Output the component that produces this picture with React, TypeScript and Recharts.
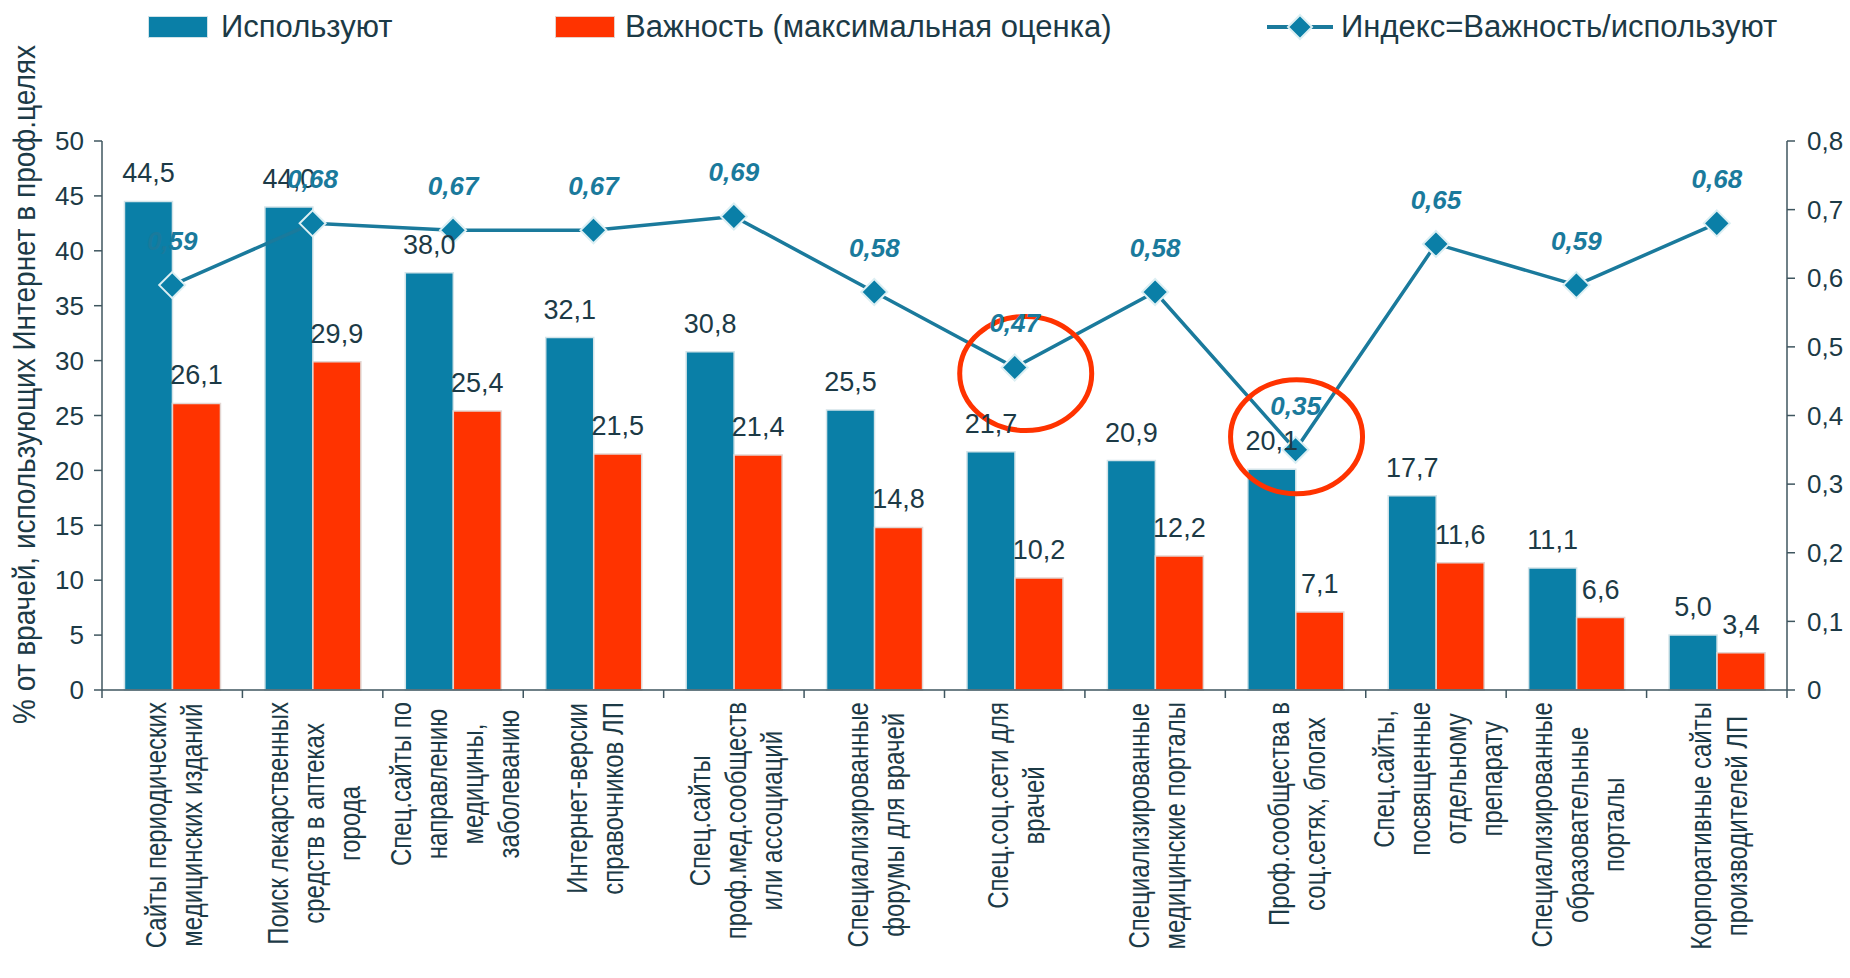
import React from "react";
import {
  ComposedChart,
  Bar,
  Line,
  XAxis,
  YAxis,
  Legend,
  LabelList,
  ReferenceDot,
} from "recharts";

const categories = [
  "Сайты периодических\nмедицинских изданий",
  "Поиск лекарственных\nсредств в аптеках\nгорода",
  "Спец.сайты по\nнаправлению\nмедицины,\nзаболеванию",
  "Интернет-версии\nсправочников ЛП",
  "Спец.сайты\nпроф.мед.сообществ\nили ассоциаций",
  "Специализированные\nфорумы для врачей",
  "Спец.соц.сети для\nврачей",
  "Специализированные\nмедицинские порталы",
  "Проф.сообщества в\nсоц.сетях, блогах",
  "Спец.сайты,\nпосвященные\nотдельному\nпрепарату",
  "Специализированные\nобразовательные\nпорталы",
  "Корпоративные сайты\nпроизводителей ЛП",
];

const usage = [44.5, 44.0, 38.0, 32.1, 30.8, 25.5, 21.7, 20.9, 20.1, 17.7, 11.1, 5.0];
const importance = [26.1, 29.9, 25.4, 21.5, 21.4, 14.8, 10.2, 12.2, 7.1, 11.6, 6.6, 3.4];
const indexValues = [0.59, 0.68, 0.67, 0.67, 0.69, 0.58, 0.47, 0.58, 0.35, 0.65, 0.59, 0.68];

const leftTicks = [0, 5, 10, 15, 20, 25, 30, 35, 40, 45, 50];
const rightTicks = [0, 0.1, 0.2, 0.3, 0.4, 0.5, 0.6, 0.7, 0.8];

// отмеченные красным точки (индексы категорий)
const circled = [6, 8];

const data = categories.map((name, i) => ({
  name,
  usage: usage[i],
  importance: importance[i],
  index: indexValues[i],
}));

const CHART_W = 1850;
const CHART_H = 978;
const LEFT_W = 102;
const RIGHT_W = 63;
const X_AXIS_H = 288;
const LEGEND_H = 60;
const BAND = (CHART_W - LEFT_W - RIGHT_W) / categories.length;

const FONT = '"Liberation Sans", Arial, sans-serif';
const TEXT = "#1c3a46";
const AXIS = "#3f565f";
const BLUE = "#0a7fa7";
const RED = "#ff3300";
const LINE = "#1a7a9c";
const CAT_FONT = 24;
const CAT_LINE_H = 30;
const CAT_STRETCH = 1.2;

const fmt = (v: number, digits: number) => v.toFixed(digits).replace(".", ",");

let ctx: CanvasRenderingContext2D | null = null;
const measure = (s: string) => {
  if (!ctx) ctx = document.createElement("canvas").getContext("2d");
  if (!ctx) return s.length * CAT_FONT * 0.55;
  ctx.font = `${CAT_FONT}px "Liberation Sans"`;
  return ctx.measureText(s).width;
};

const CategoryTick = (props: any) => {
  const { x, y, payload, index } = props;
  const lines = String(payload.value).split("\n");
  const maxW = Math.max(...lines.map(measure));
  const n = lines.length;
  return (
    <g>
      <line x1={x - BAND / 2} x2={x - BAND / 2} y1={y} y2={y + 8} stroke={AXIS} strokeWidth={1.5} />
      {index === categories.length - 1 && (
        <line x1={x + BAND / 2} x2={x + BAND / 2} y1={y} y2={y + 8} stroke={AXIS} strokeWidth={1.5} />
      )}
      <g transform={`translate(${x + 2},${y + 12}) rotate(-90) scale(1,${CAT_STRETCH})`}>
        {lines.map((l, i) => (
          <text
            key={i}
            x={-maxW / 2}
            y={(i - (n - 1) / 2) * CAT_LINE_H}
            textAnchor="middle"
            dominantBaseline="central"
            fontSize={CAT_FONT}
            fontFamily={FONT}
            fill={TEXT}
          >
            {l}
          </text>
        ))}
      </g>
    </g>
  );
};

const BarValueLabel = (props: any) => {
  const { x, y, width, value } = props;
  return (
    <text x={Number(x) + Number(width) / 2} y={Number(y) - 19} textAnchor="middle" fontSize={27} fontFamily={FONT} fill={TEXT}>
      {fmt(Number(value), 1)}
    </text>
  );
};

const IndexLabel = (props: any) => {
  const { x, y, value } = props;
  return (
    <text
      x={x}
      y={Number(y) - 35}
      textAnchor="middle"
      fontSize={26}
      fontWeight="bold"
      fontStyle="italic"
      fontFamily={FONT}
      fill={LINE}
    >
      {fmt(Number(value), 2)}
    </text>
  );
};

const DiamondDot = (props: any) => {
  const { cx, cy } = props;
  const r = 13;
  return (
    <path
      d={`M${cx},${cy - r} L${cx + r},${cy} L${cx},${cy + r} L${cx - r},${cy} Z`}
      fill={BLUE}
      stroke="#dcefF3"
      strokeWidth={2}
    />
  );
};

const ellipseOffsets = [
  { dx: 11, dy: 6 },
  { dx: 1, dy: -13 },
];

const YTitle = () => (
  <text
    transform="translate(24,724) rotate(-90) scale(1,1.15)"
    textAnchor="start"
    dominantBaseline="central"
    fontSize={28}
    fontFamily={FONT}
    fill={TEXT}
  >
    % от врачей, использующих Интернет в проф.целях
  </text>
);

const legendItem = (left: number): React.CSSProperties => ({
  position: "absolute",
  left,
  top: 0,
  height: 54,
  display: "flex",
  alignItems: "center",
  whiteSpace: "nowrap",
});

const LegendContent = () => (
  <div
    style={{
      position: "relative",
      width: CHART_W,
      height: LEGEND_H,
      fontFamily: FONT,
      fontSize: 31,
      color: TEXT,
    }}
  >
    <div style={legendItem(148)}>
      <span style={{ width: 58, height: 20, background: BLUE, border: "1px solid #cfe2e8", display: "inline-block" }} />
      <span style={{ marginLeft: 13 }}>Используют</span>
    </div>
    <div style={legendItem(555)}>
      <span style={{ width: 58, height: 20, background: RED, border: "1px solid #e8d0c8", display: "inline-block" }} />
      <span style={{ marginLeft: 10 }}>Важность (максимальная оценка)</span>
    </div>
    <div style={legendItem(1267)}>
      <svg width={66} height={30}>
        <line x1={0} x2={66} y1={15} y2={15} stroke={LINE} strokeWidth={4} />
        <path d="M33,3 L45,15 L33,27 L21,15 Z" fill={BLUE} stroke="#dcefF3" strokeWidth={2} />
      </svg>
      <span style={{ marginLeft: 8 }}>Индекс=Важность/используют</span>
    </div>
  </div>
);

export default function App() {
  return (
    <div style={{ position: "absolute", left: 0, top: 0, width: CHART_W, height: CHART_H, background: "#fff" }}>
      <ComposedChart
        width={CHART_W}
        height={CHART_H}
        data={data}
        margin={{ top: 141 - LEGEND_H, right: 0, bottom: 0, left: 0 }}
        barCategoryGap="16%"
        barGap={0}
      >
        <Legend
          verticalAlign="top"
          content={<LegendContent />}
          wrapperStyle={{ top: 0, left: 0, width: CHART_W, height: LEGEND_H }}
        />
        <XAxis
          dataKey="name"
          xAxisId={0}
          height={X_AXIS_H}
          interval={0}
          tick={<CategoryTick />}
          tickLine={false}
          tickSize={0}
          tickMargin={0}
          axisLine={{ stroke: AXIS, strokeWidth: 1.5 }}
        />
        <YAxis
          yAxisId="left"
          orientation="left"
          width={LEFT_W}
          domain={[0, 50]}
          ticks={leftTicks}
          interval={0}
          tick={{ fontSize: 26, fill: TEXT, fontFamily: FONT }}
          tickSize={8}
          tickMargin={10}
          axisLine={{ stroke: AXIS, strokeWidth: 1.5 }}
          tickLine={{ stroke: AXIS, strokeWidth: 1.5 }}
          label={<YTitle />}
        />
        <YAxis
          yAxisId="right"
          orientation="right"
          width={RIGHT_W}
          domain={[0, 0.8]}
          ticks={rightTicks}
          interval={0}
          tick={{ fontSize: 26, fill: TEXT, fontFamily: FONT }}
          tickFormatter={(v: number) => (v === 0 ? "0" : fmt(v, 1))}
          tickSize={8}
          tickMargin={12}
          axisLine={{ stroke: AXIS, strokeWidth: 1.5 }}
          tickLine={{ stroke: AXIS, strokeWidth: 1.5 }}
        />
        <Bar yAxisId="left" dataKey="usage" fill={BLUE} stroke="#d3e4e9" strokeWidth={1.5} isAnimationActive={false}>
          <LabelList dataKey="usage" content={BarValueLabel} />
        </Bar>
        <Bar yAxisId="left" dataKey="importance" fill={RED} stroke="#e3d6d2" strokeWidth={1.5} isAnimationActive={false}>
          <LabelList dataKey="importance" content={BarValueLabel} />
        </Bar>
        <Line
          yAxisId="right"
          type="linear"
          dataKey="index"
          stroke={LINE}
          strokeWidth={3.5}
          dot={<DiamondDot />}
          activeDot={false}
          isAnimationActive={false}
        >
          <LabelList dataKey="index" content={IndexLabel} />
        </Line>
        {circled.map((ci, k) => (
          <ReferenceDot
            key={ci}
            yAxisId="right"
            x={categories[ci]}
            y={indexValues[ci]}
            shape={(p: any) => (
              <ellipse
                cx={p.cx + ellipseOffsets[k].dx}
                cy={p.cy + ellipseOffsets[k].dy}
                rx={66}
                ry={57}
                fill="none"
                stroke={RED}
                strokeWidth={5}
              />
            )}
          />
        ))}
      </ComposedChart>
    </div>
  );
}
